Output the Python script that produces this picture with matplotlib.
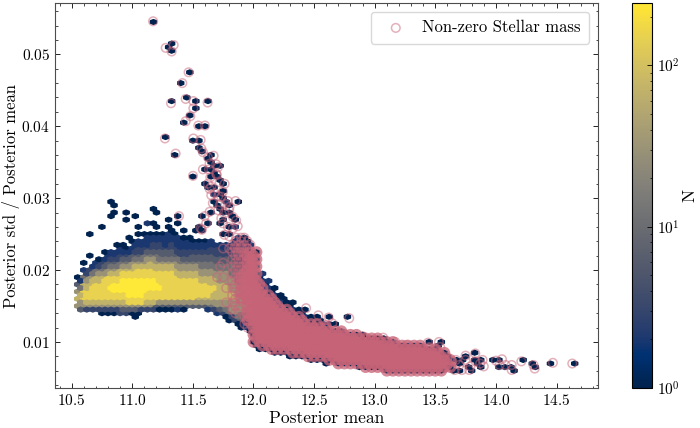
import numpy as np
import matplotlib
matplotlib.use('Agg')
import matplotlib.pyplot as plt
from matplotlib.colors import LogNorm
from matplotlib.ticker import MultipleLocator

plt.rcParams['font.family'] = 'serif'
plt.rcParams['font.serif'] = ['cmr10']
plt.rcParams['mathtext.fontset'] = 'cm'
plt.rcParams['axes.formatter.use_mathtext'] = True
plt.rcParams['axes.unicode_minus'] = False

# hex lattice (columns of hexes, rows alternate by half a hex)
X0, SX = 10.55, 0.05
Y0, DY = 0.005, 0.0005
NX, NY = 84, 51

# level digit -> number of objects in the hex
LEVEL_COUNTS = [1, 2, 3, 6, 12, 30, 70, 150, 240]

# one entry per hex column: (first row, levels going up)
# digits = hexbin only
# A..I = same level + one stellar mass object, a..i = level + dense stellar mass
COLUMNS = [
    (19, "4667765421"),
    (19, "367888776532 1"),
    (19, "3678888776532  1"),
    (19, "367888887765321"),
    (18, "1367888888765432 1"),
    (18, "136788898887654322"),
    (18, "136788999887654322 1"),
    (18, "24678899998876543221"),
    (18, "2468899999887654321  1"),
    (18, "146889999988776543221"),
    (18, "136889999988876543322 1"),
    (19, "3678899998887665432221"),
    (19, "3678889998887765433221  1"),
    (19, "1468889988877655433221 1"),
    (19, "1468888888877654432221"),
    (19, "14688888888776544332221"),
    (19, "2468888888776654332221  1"),
    (19, "146888888776654332221 1"),
    (20, "46888888776654332221"),
    (20, "4688888877665443221  1"),
    (20, "4678888776655443221"),
    (19, "24678888776655443221"),
    (19, "35677887776655443322"),
    (18, "2466777776F65E443332"),
    (17, "1356F777G76F655D433B2"),
    (16, "135F6F7G7F6F6E5E4D3CCB"),
    (15, "135FFF6GFF6FEEEDDDCCCBBB"),
    (14, "1B4E56F6ffffeeeeDDDCCCCBBA"),
    (13, "1BCdeefffeeeeddddcccccbBBA"),
    (9, "1abcddddddddddddddddddddcba"),
    (8, "1abcdddddddddccccba211"),
    (8, "1abcdddddddcccba2211"),
    (7, "1abcccccccccccba211"),
    (7, "1abcccccccccba211"),
    (7, "1abccccccccba211"),
    (6, "1abccccccccba211"),
    (6, "1abcccccccba21"),
    (6, "1abccccccba21"),
    (5, "1abccccccba21"),
    (5, "1abccccccba1"),
    (5, "1abcccccba21"),
    (4, "1abccccccba1"),
    (5, "abcccccba"),
    (4, "abccccccba"),
    (4, "abcccccba"),
    (4, "abcccccba"),
    (3, "1abcccccba"),
    (3, "abcccccba"),
    (3, "abcccccba"),
    (3, "abcccccba"),
    (3, "abccccba"),
    (2, "abcccccba"),
    (2, "abcccccba"),
    (2, "abccccba"),
    (2, "abccccba"),
    (2, "abccccba"),
    (2, "abccccba"),
    (2, "abcccba"),
    (2, "abcccba"),
    (2, "abcccba"),
    (2, "abbbba"),
    (3, "aba"),
]

# isolated objects without stellar mass
OUT_X = [10.84, 10.87, 10.84, 10.96, 11.02, 11.19, 11.21, 11.28, 11.10, 11.14,
         10.80, 10.94, 10.73, 10.67, 11.06, 10.92, 10.95, 11.02, 11.30, 12.06, 12.12]
OUT_Y = [0.0293, 0.0289, 0.0280, 0.0280, 0.0276, 0.0283, 0.0279, 0.0269, 0.0265, 0.0265,
         0.0276, 0.0269, 0.0258, 0.0249, 0.0258, 0.0139, 0.0137, 0.0138, 0.0262, 0.0193, 0.0184]

# isolated objects with non-zero stellar mass
SM_X = [11.172, 11.276, 11.342, 11.325, 11.465, 11.413, 11.441, 11.504, 11.622, 11.320,
        11.504, 11.479, 11.441, 11.545, 11.600, 11.270, 11.504, 11.564, 11.358, 11.570,
        11.583, 11.624, 11.671, 11.693, 11.638, 11.583, 11.633, 11.707, 11.693, 11.501,
        11.698, 11.644, 11.721, 11.762, 11.624, 11.638, 11.652, 11.679, 11.748, 11.652,
        11.735, 11.710, 11.789, 11.852, 11.665, 11.721, 11.770, 11.803, 11.710, 11.760,
        11.800, 11.386, 11.597, 11.638, 11.830, 11.857, 11.735, 11.748, 11.564, 11.575,
        11.610, 11.790, 11.830, 11.870, 11.760, 11.800, 11.857, 11.898, 11.898, 11.952,
        11.844, 11.870, 11.925, 11.965,
        12.434, 12.535, 12.62, 12.65, 12.60, 12.79, 12.71, 12.80, 12.90, 12.96,
        13.07, 13.17, 13.26, 13.44, 13.53, 13.54, 13.45, 13.37,
        13.60, 13.64, 13.67, 13.70, 13.66, 13.72, 13.78, 13.79, 13.75, 13.75,
        13.83, 13.83, 13.87, 13.89, 13.90, 14.00, 14.05, 14.03, 14.08, 14.13,
        14.13, 14.21, 14.31, 14.32, 14.47, 14.63]
SM_Y = [0.0546, 0.0509, 0.0513, 0.0504, 0.0475, 0.0460, 0.0438, 0.0435, 0.0433, 0.0432,
        0.0425, 0.0414, 0.0407, 0.0401, 0.0401, 0.0383, 0.0383, 0.0381, 0.0362, 0.0369,
        0.0364, 0.0357, 0.0359, 0.0347, 0.0348, 0.0340, 0.0340, 0.0343, 0.0334, 0.0331,
        0.0332, 0.0329, 0.0322, 0.0320, 0.0320, 0.0313, 0.0316, 0.0307, 0.0309, 0.0304,
        0.0302, 0.0303, 0.0296, 0.0296, 0.0293, 0.0290, 0.0292, 0.0288, 0.0283, 0.0279,
        0.0283, 0.0275, 0.0275, 0.0281, 0.0274, 0.0269, 0.0272, 0.0265, 0.0258, 0.0256,
        0.0265, 0.0260, 0.0258, 0.0261, 0.0249, 0.0247, 0.0245, 0.0245, 0.0232, 0.0230,
        0.0232, 0.0223, 0.0223, 0.0218,
        0.0147, 0.0137, 0.0134, 0.0126, 0.0124, 0.0133, 0.0113, 0.0106, 0.0108, 0.0103,
        0.0106, 0.0100, 0.0096, 0.0099, 0.0100, 0.0093, 0.0093, 0.0091,
        0.0079, 0.0073, 0.0075, 0.0068, 0.0061, 0.0061, 0.0061, 0.0066, 0.0075, 0.0081,
        0.0084, 0.0073, 0.0070, 0.0075, 0.0066, 0.0074, 0.0076, 0.0068, 0.0068, 0.0068,
        0.0061, 0.0073, 0.0068, 0.0063, 0.0071, 0.0070]

# unpack the hex columns
hx, hy, hc = [], [], []
bx, by = [], []            # dense stellar mass cells
sx, sy = list(SM_X), list(SM_Y)   # single stellar mass objects
for i, (m0, levels) in enumerate(COLUMNS):
    for k, ch in enumerate(levels):
        if ch == ' ':
            continue
        m = m0 + k
        x = X0 + (i + 0.5 * (m % 2)) * SX
        y = Y0 + m * DY
        if ch.isdigit():
            lev = int(ch)
        elif ch.islower():
            lev = ord(ch) - ord('a') + 1
            bx.append(x)
            by.append(y)
        else:
            lev = ord(ch) - ord('A') + 1
            sx.append(x)
            sy.append(y)
        hx.append(x)
        hy.append(y)
        hc.append(LEVEL_COUNTS[lev - 1])

hx += OUT_X + SM_X
hy += OUT_Y + SM_Y
hc += [1] * (len(OUT_X) + len(SM_X))

pink = '#c86478'

fig = plt.figure(figsize=(7, 4.28), dpi=100)
ax = fig.add_axes([0.0786, 0.0935, 0.7753, 0.8988])

hb = ax.hexbin(hx, hy, C=hc, reduce_C_function=np.sum,
               gridsize=(NX, NY), extent=(X0, X0 + NX * SX, Y0, Y0 + NY * 2 * DY),
               cmap='cividis', norm=LogNorm(vmin=1, vmax=245))

# the dense part piles up into a solid band
ax.scatter(bx, by, s=38, facecolors='none', edgecolors=pink,
           linewidths=2.3, alpha=0.75, zorder=3)
ax.scatter(sx, sy, s=38, facecolors='none', edgecolors=pink,
           linewidths=1.1, alpha=0.5, label='Non-zero Stellar mass', zorder=3)

ax.set_xlim(10.363, 14.84)
ax.set_ylim(0.0036, 0.0571)
ax.xaxis.set_major_locator(MultipleLocator(0.5))
ax.xaxis.set_minor_locator(MultipleLocator(0.1))
ax.yaxis.set_major_locator(MultipleLocator(0.01))
ax.yaxis.set_minor_locator(MultipleLocator(0.002))
ax.tick_params(which='both', direction='in', top=True, right=True, labelsize=11)
ax.tick_params(which='major', length=3.5, width=0.6)
ax.tick_params(which='minor', length=1.8, width=0.5)
for sp in ax.spines.values():
    sp.set_linewidth(0.8)
    sp.set_color('0.3')

ax.set_xlabel('Posterior mean', fontsize=12.5, labelpad=2)
ax.set_ylabel('Posterior std / Posterior mean', fontsize=12, labelpad=1)

leg = ax.legend(loc='upper right', fontsize=12, fancybox=True, framealpha=1,
                edgecolor='0.85', handletextpad=0.6, borderpad=0.5)

cax = fig.add_axes([0.9024, 0.0941, 0.0286, 0.8995])
cb = fig.colorbar(hb, cax=cax)
cb.set_label('N', fontsize=12.5, labelpad=2)
cb.ax.tick_params(which='both', direction='in', labelsize=11)
cb.ax.tick_params(which='major', length=3.5, width=0.6)
cb.ax.tick_params(which='minor', length=1.8, width=0.5)
cb.outline.set_linewidth(0.8)

fig.savefig('out.png', dpi=100)
